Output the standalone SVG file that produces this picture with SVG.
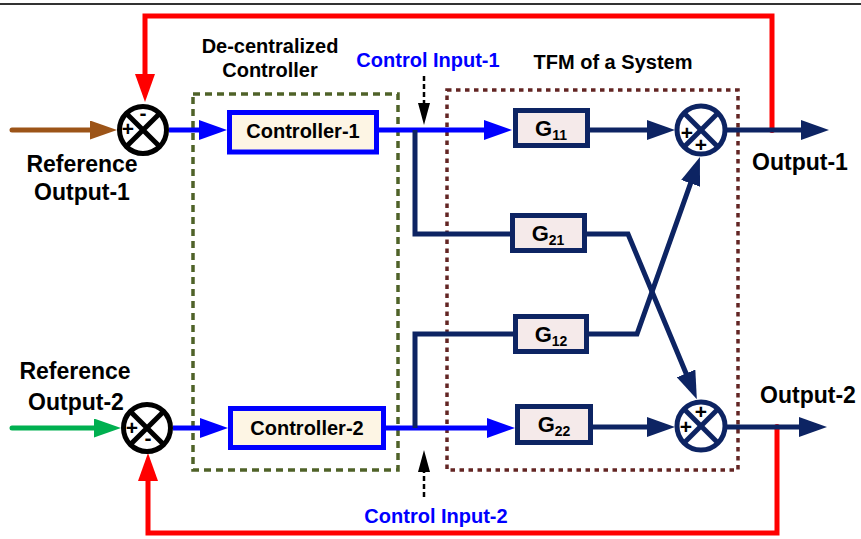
<svg xmlns="http://www.w3.org/2000/svg" width="861" height="539" viewBox="0 0 861 539">
  <style>
    text { font-family: "Liberation Sans", Arial, sans-serif; font-weight: bold; fill: #000; }
    .lbl { font-size: 20px; text-anchor: middle; }
    .big { font-size: 23px; text-anchor: middle; }
    .blue { fill: #0000FF; }
    .sign { font-size: 21px; text-anchor: middle; }
    .ctrl rect { fill: #FDF5E4; stroke: #0000FF; stroke-width: 5; }
    .gbox rect { fill: #F5EAEA; stroke: #0D2463; stroke-width: 5; }
    .gtxt { font-size: 22px; text-anchor: middle; }
    .sub { font-size: 14px; }
    .sumk circle, .sumk line { fill: #fff; stroke: #000; stroke-width: 5; }
    .sumn circle, .sumn line { fill: #fff; stroke: #0D2463; stroke-width: 5; }
    .sumk line, .sumn line { fill: none; }
    .w { fill: none; stroke-width: 5; }
    .navy { stroke: #0D2463; }
    .bl { stroke: #0000FF; }
    .red { stroke: #FF0000; }
    .ptr { fill: none; stroke: #000; stroke-width: 2.5; stroke-dasharray: 5 3; }
  </style>
  <defs>
    <marker id="ahNavy" viewBox="0 0 28 20" markerWidth="28" markerHeight="20" refX="18" refY="10" orient="auto" markerUnits="userSpaceOnUse">
      <path d="M0,0 L28,10 L0,20 z" fill="#0D2463"/>
    </marker>
    <marker id="ahBlue" viewBox="0 0 28 20" markerWidth="28" markerHeight="20" refX="18" refY="10" orient="auto" markerUnits="userSpaceOnUse">
      <path d="M0,0 L28,10 L0,20 z" fill="#0000FF"/>
    </marker>
    <marker id="ahRed" viewBox="0 0 28 20" markerWidth="28" markerHeight="20" refX="18" refY="10" orient="auto" markerUnits="userSpaceOnUse">
      <path d="M0,0 L28,10 L0,20 z" fill="#FF0000"/>
    </marker>
    <marker id="ahBrown" viewBox="0 0 27 19" markerWidth="27" markerHeight="19" refX="17" refY="9.5" orient="auto" markerUnits="userSpaceOnUse">
      <path d="M0,0 L27,9.5 L0,19 z" fill="#9C5418"/>
    </marker>
    <marker id="ahGreen" viewBox="0 0 27 19" markerWidth="27" markerHeight="19" refX="17" refY="9.5" orient="auto" markerUnits="userSpaceOnUse">
      <path d="M0,0 L27,9.5 L0,19 z" fill="#00B050"/>
    </marker>
    <marker id="ahBlack" viewBox="0 0 22 12" markerWidth="22" markerHeight="12" refX="1" refY="6" orient="auto" markerUnits="userSpaceOnUse">
      <path d="M0,0 L22,6 L0,12 z" fill="#000"/>
    </marker>
  </defs>

  <rect width="861" height="539" fill="#fff"/>
  <line x1="0" y1="4" x2="861" y2="4" stroke="#333" stroke-width="2"/>

  <!-- grouping frames -->
  <g id="decentralized-controller">
    <rect x="193" y="94" width="205" height="376" fill="none" stroke="#4F6228" stroke-width="3.5" stroke-dasharray="7 5"/>
    <text class="lbl" x="270" y="53">De-centralized</text>
    <text class="lbl" x="270" y="77">Controller</text>
  </g>
  <g id="tfm-system">
    <rect x="447" y="90" width="291" height="380" fill="none" stroke="#632523" stroke-width="3.5" stroke-dasharray="4.5 4.5"/>
    <text class="lbl" x="613" y="69">TFM of a System</text>
  </g>

  <!-- connectors -->
  <g id="connectors">
    <!-- feedback loops -->
    <path class="w red" d="M772,130 V16 H145 V92" marker-end="url(#ahRed)"/>
    <circle cx="772" cy="130" r="3" fill="#FF0000"/>
    <path class="w red" d="M777,427 V533 H148 V463" marker-end="url(#ahRed)"/>
    <circle cx="777" cy="427" r="3" fill="#FF0000"/>
    <!-- references -->
    <path d="M12,130 H107" fill="none" stroke="#9C5418" stroke-width="5" stroke-linecap="round" marker-end="url(#ahBrown)"/>
    <path d="M12,428 H111" fill="none" stroke="#00B050" stroke-width="5" stroke-linecap="round" marker-end="url(#ahGreen)"/>
    <!-- error to controllers -->
    <path class="w bl" d="M169,130 H217" marker-end="url(#ahBlue)"/>
    <path class="w bl" d="M173,428 H218" marker-end="url(#ahBlue)"/>
    <!-- control inputs -->
    <path class="w bl" d="M379,130 H502" marker-end="url(#ahBlue)"/>
    <path class="w bl" d="M386,428 H505" marker-end="url(#ahBlue)"/>
    <path class="w navy" d="M415,130 V234 H511"/>
    <path class="w navy" d="M415,428 V334 H514"/>
    <!-- plant paths -->
    <path class="w navy" d="M590,130 H665" marker-end="url(#ahNavy)"/>
    <path class="w navy" d="M593,427 H665" marker-end="url(#ahNavy)"/>
    <path class="w navy" d="M587,234 H628 L693,390" marker-end="url(#ahNavy)"/>
    <path class="w navy" d="M589,334 H637 L696.6,166.4" marker-end="url(#ahNavy)"/>
    <!-- outputs -->
    <path class="w navy" d="M725,130 H819" marker-end="url(#ahNavy)"/>
    <path class="w navy" d="M725,427 H817" marker-end="url(#ahNavy)"/>
    <!-- control input pointers -->
    <path class="ptr" d="M424,76 V104" marker-end="url(#ahBlack)"/>
    <path class="ptr" d="M424,497 V471" marker-end="url(#ahBlack)"/>
  </g>

  <!-- summing junctions -->
  <g id="sum-ref1" class="sumk">
    <circle cx="143" cy="130" r="23.5"/>
    <line x1="126.4" y1="113.4" x2="159.6" y2="146.6"/>
    <line x1="159.6" y1="113.4" x2="126.4" y2="146.6"/>
    <text class="sign" x="128" y="136">+</text>
    <text class="sign" x="143" y="120">-</text>
  </g>
  <g id="sum-ref2" class="sumk">
    <circle cx="147" cy="428" r="23.5"/>
    <line x1="130.4" y1="411.4" x2="163.6" y2="444.6"/>
    <line x1="163.6" y1="411.4" x2="130.4" y2="444.6"/>
    <text class="sign" x="132" y="435">+</text>
    <text class="sign" x="148" y="445">-</text>
  </g>
  <g id="sum-out1" class="sumn">
    <circle cx="701" cy="130" r="24"/>
    <line x1="684" y1="113" x2="718" y2="147"/>
    <line x1="718" y1="113" x2="684" y2="147"/>
    <text class="sign" x="687" y="140">+</text>
    <text class="sign" x="701" y="152">+</text>
  </g>
  <g id="sum-out2" class="sumn">
    <circle cx="701" cy="426" r="24"/>
    <line x1="684" y1="409" x2="718" y2="443"/>
    <line x1="718" y1="409" x2="684" y2="443"/>
    <text class="sign" x="701" y="419">+</text>
    <text class="sign" x="686" y="434">+</text>
  </g>

  <!-- controllers -->
  <g id="controller-1" class="ctrl">
    <rect x="229.5" y="112.5" width="147" height="39.5"/>
    <text class="lbl" x="303" y="138">Controller-1</text>
  </g>
  <g id="controller-2" class="ctrl">
    <rect x="230.5" y="408.5" width="153" height="39"/>
    <text class="lbl" x="307" y="435">Controller-2</text>
  </g>

  <!-- plant transfer functions -->
  <g id="g11" class="gbox">
    <rect x="515.5" y="110.5" width="72" height="35"/>
    <text class="gtxt" x="551" y="136">G<tspan class="sub" dy="4">11</tspan></text>
  </g>
  <g id="g21" class="gbox">
    <rect x="512.5" y="215.5" width="72" height="35"/>
    <text class="gtxt" x="548" y="241">G<tspan class="sub" dy="4">21</tspan></text>
  </g>
  <g id="g12" class="gbox">
    <rect x="515.5" y="316.5" width="71" height="35"/>
    <text class="gtxt" x="551" y="342">G<tspan class="sub" dy="4">12</tspan></text>
  </g>
  <g id="g22" class="gbox">
    <rect x="517.5" y="406.5" width="73" height="36"/>
    <text class="gtxt" x="554" y="432">G<tspan class="sub" dy="4">22</tspan></text>
  </g>

  <!-- signal labels -->
  <g id="label-ref1">
    <text class="big" x="82" y="172">Reference</text>
    <text class="big" x="82" y="200">Output-1</text>
  </g>
  <g id="label-ref2">
    <text class="big" x="75" y="379">Reference</text>
    <text class="big" x="76" y="410">Output-2</text>
  </g>
  <g id="label-out1"><text class="big" x="800" y="170">Output-1</text></g>
  <g id="label-out2"><text class="big" x="808" y="403">Output-2</text></g>
  <g id="label-u1"><text class="lbl blue" x="428" y="67">Control Input-1</text></g>
  <g id="label-u2"><text class="lbl blue" x="436" y="523">Control Input-2</text></g>
</svg>
